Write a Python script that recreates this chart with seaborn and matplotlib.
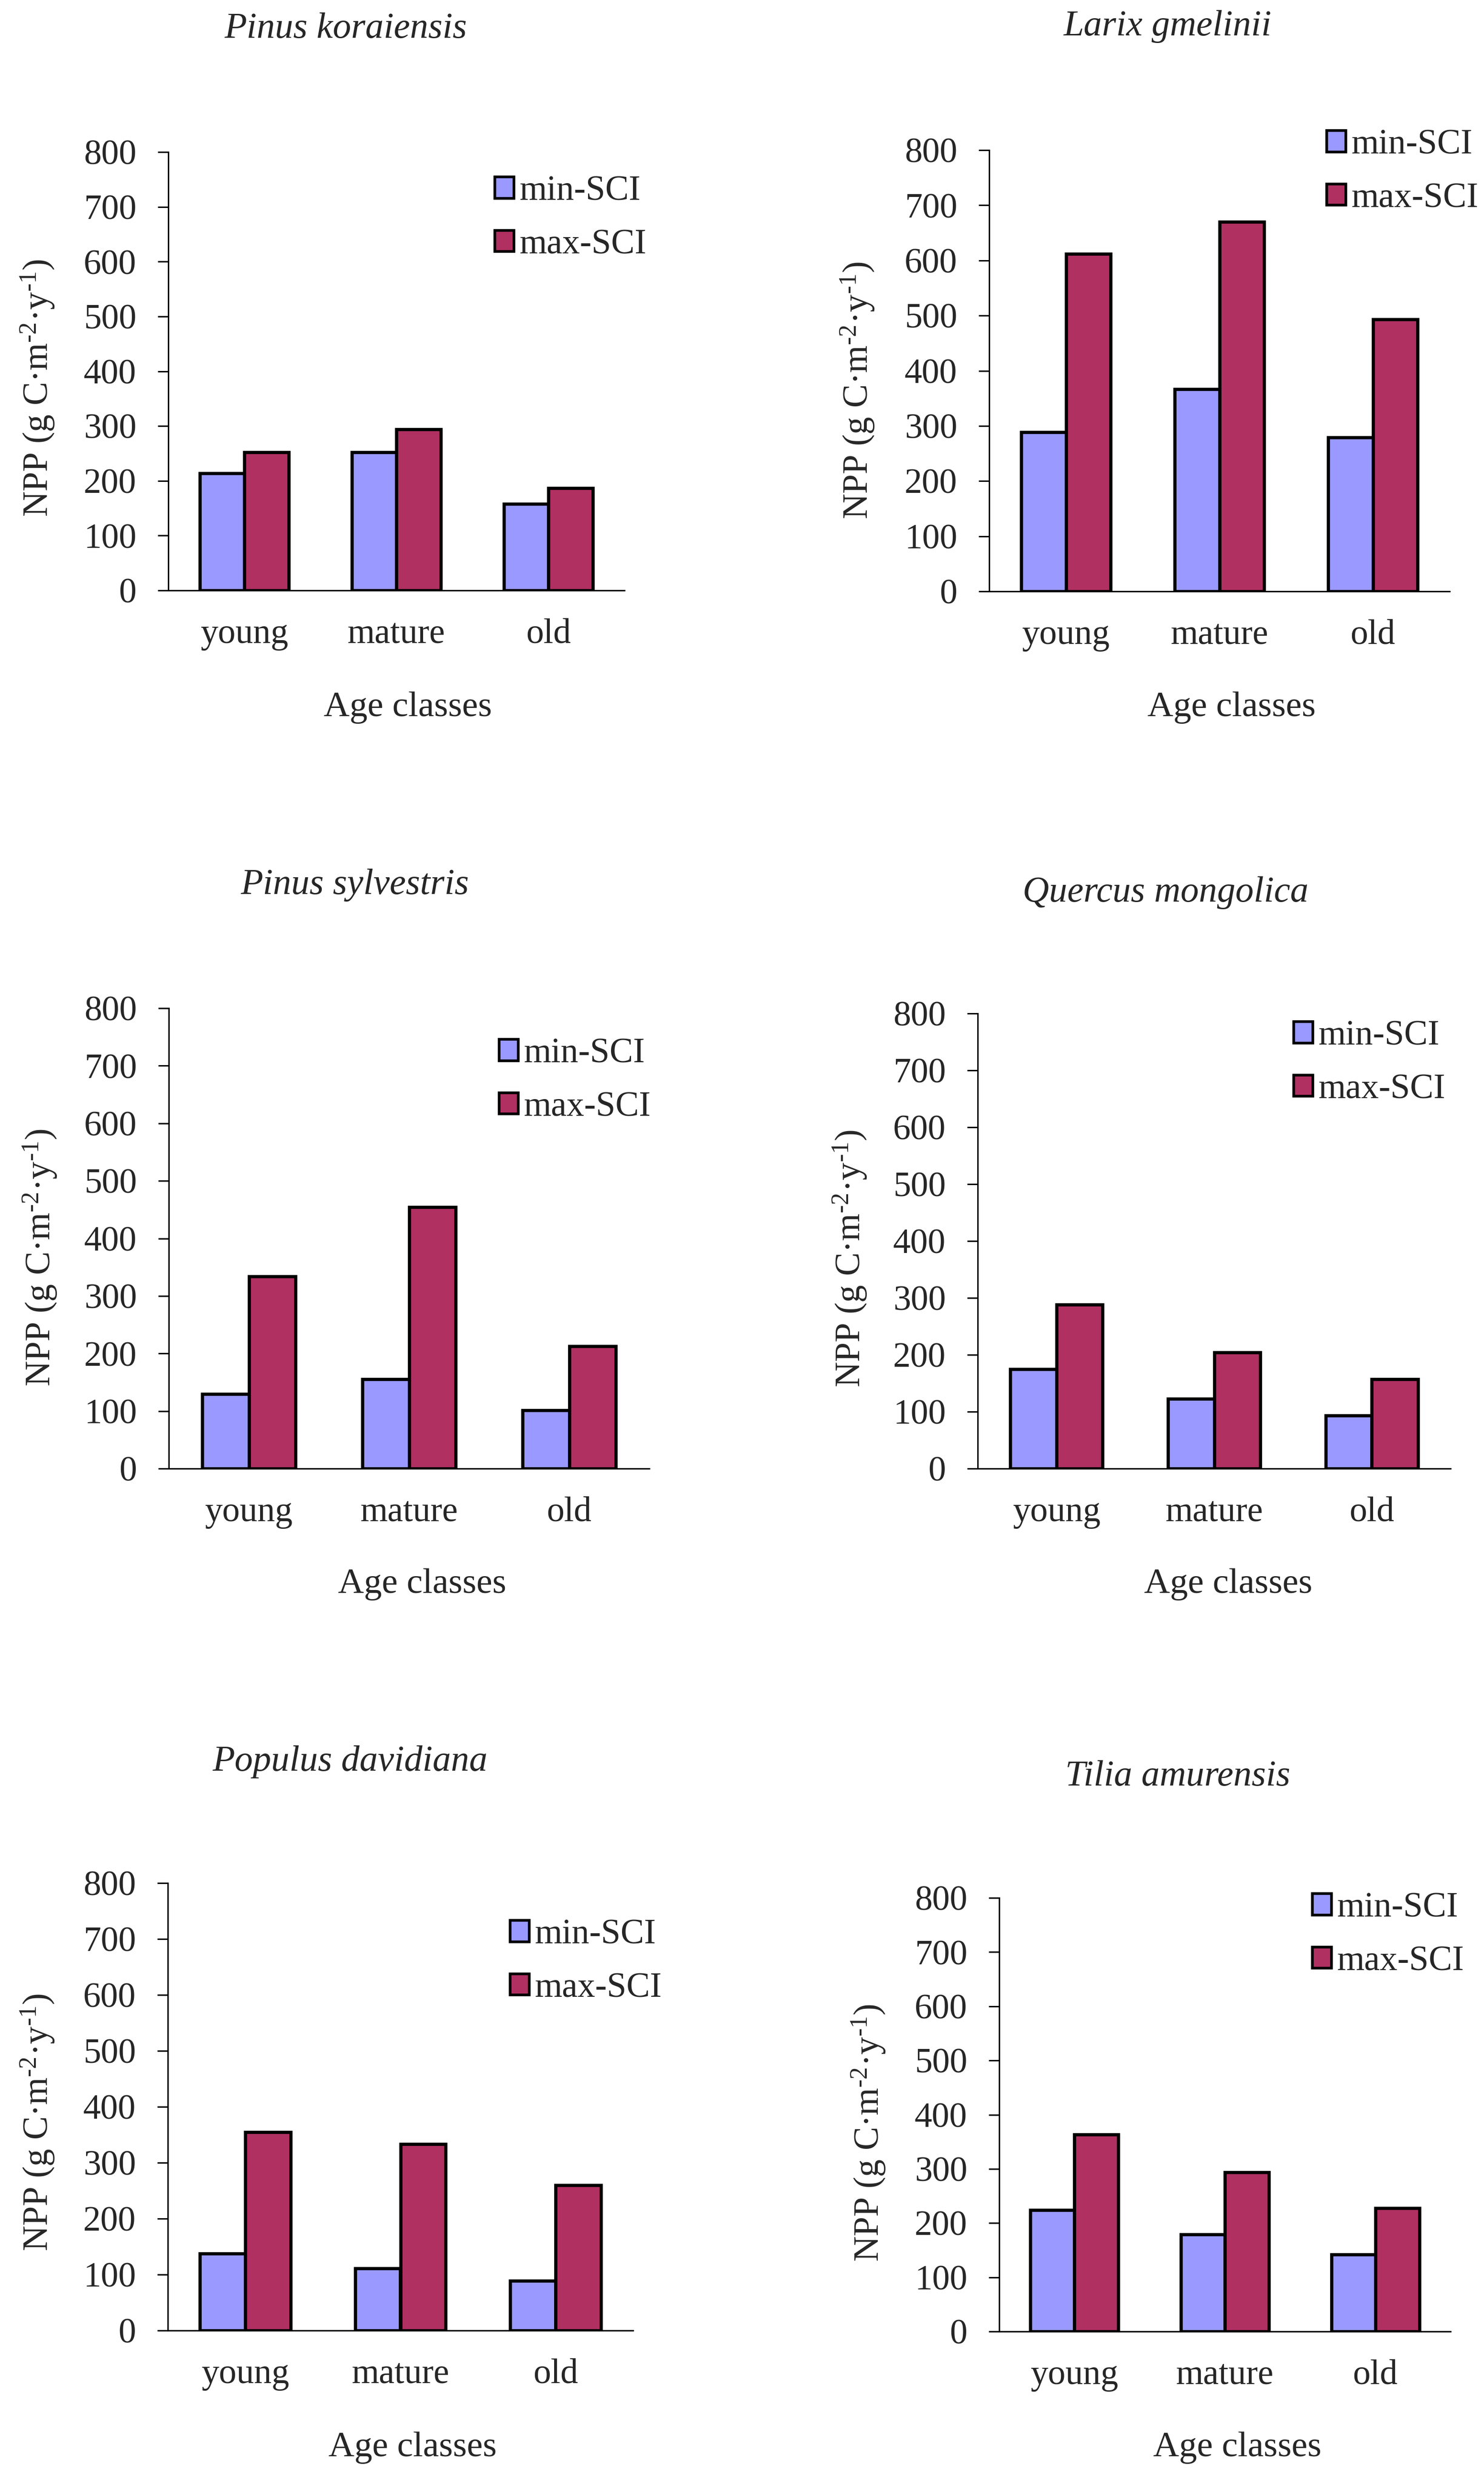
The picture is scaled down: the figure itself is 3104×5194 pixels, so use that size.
import matplotlib
matplotlib.use("Agg")
import matplotlib.pyplot as plt
import seaborn as sns
import pandas as pd
from matplotlib.ticker import FixedLocator

sns.set_theme(style="white")
plt.rcParams['font.family'] = ['Liberation Serif', 'DejaVu Serif']
plt.rcParams['mathtext.fontset'] = 'custom'
plt.rcParams['mathtext.rm'] = 'Liberation Serif'
plt.rcParams['mathtext.it'] = 'Liberation Serif:italic'
plt.rcParams['mathtext.default'] = 'rm'

# ---- data ----
age_classes = ["young", "mature", "old"]
series_names = ["min-SCI", "max-SCI"]
species = ["Pinus koraiensis", "Larix gmelinii", "Pinus sylvestris",
           "Quercus mongolica", "Populus davidiana", "Tilia amurensis"]
pk_min = [214, 252, 158]
pk_max = [252, 294, 187]
lg_min = [289, 367, 279]
lg_max = [612, 670, 493]
ps_min = [130, 155, 101]
ps_max = [334, 454, 213]
qm_min = [175, 123, 93]
qm_max = [288, 204, 157]
pd_min = [138, 111, 89]
pd_max = [355, 333, 260]
ta_min = [224, 179, 142]
ta_max = [363, 294, 228]
y_ticks = [0, 100, 200, 300, 400, 500, 600, 700, 800]

mins = [pk_min, lg_min, ps_min, qm_min, pd_min, ta_min]
maxs = [pk_max, lg_max, ps_max, qm_max, pd_max, ta_max]

colors = ["#9999FF", "#B03062"]

W, H = 3104, 5194
DPI = 200
fig = plt.figure(figsize=(W / DPI, H / DPI), dpi=DPI)
fig.patch.set_facecolor("white")

# layout in pixel coordinates (x0, x1, ytop, ybottom)
axes_px = [(352, 1306, 318, 1235), (2069, 3032, 314, 1237),
           (353, 1358, 2109, 3072), (2045, 3034, 2120, 3072),
           (351, 1324, 3939, 4875), (2090, 3034, 3970, 4877)]
title_px = [(723, 61), (2443, 56), (742, 1852), (2438, 1867), (732, 3686), (2463, 3716)]
ylab_px = [(79, 811), (1794, 816), (84, 2630), (1778, 2632), (79, 4439), (1817, 4461)]
xlab_px = [(853, 1480), (2576, 1480), (883, 3314), (2569, 3314), (863, 5120), (2588, 5120)]
leg_px = [(1035, 393), (2775, 296), (1044, 2197), (2706, 2160), (1067, 4040), (2745, 3984)]

FS = 26.5
FS_T = 27.5
ylabel = "NPP (g C·m$^{\u20102}$·y$^{\u20101}$)"

for i in range(6):
    x0, x1, yt, yb = axes_px[i]
    ax = fig.add_axes([x0 / W, 1 - yb / H, (x1 - x0) / W, (yb - yt) / H])
    df = pd.DataFrame({
        "age": age_classes * 2,
        "series": [series_names[0]] * 3 + [series_names[1]] * 3,
        "npp": mins[i] + maxs[i],
    })
    sns.barplot(data=df, x="age", y="npp", hue="series", order=age_classes,
                hue_order=series_names, palette=colors, width=0.585, gap=0,
                edgecolor="black", linewidth=2.4, errorbar=None, ax=ax,
                saturation=1)
    ax.set_xlim(-0.5, 2.5)
    ax.set_ylim(0, 800)
    ax.set_yticks(y_ticks)
    ax.set_yticklabels([str(v) for v in y_ticks], fontsize=FS)
    ax.set_xticks(range(3))
    ax.set_xticklabels(age_classes, fontsize=FS)
    ax.xaxis.set_minor_locator(FixedLocator([0.5, 1.5, 2.5]))
    ax.tick_params(axis="x", which="major", length=0, pad=21)
    ax.tick_params(axis="x", which="minor", direction="in", length=9, width=1.1, color="black")
    ax.tick_params(axis="y", which="major", direction="out", length=8, width=1.1,
                   color="black", pad=16, left=True)
    ax.set_xlabel("")
    ax.set_ylabel("")
    for s in ["top", "right"]:
        ax.spines[s].set_visible(False)
    for s in ["left", "bottom"]:
        ax.spines[s].set_color("black")
        ax.spines[s].set_linewidth(1.1)
    ax.set_facecolor("white")
    ax.grid(False)

    handles, labels = ax.get_legend_handles_labels()
    lx, ly = leg_px[i]
    ax.legend(handles, labels, loc="upper left",
              bbox_to_anchor=(lx / W, 1 - (ly - 26) / H),
              bbox_transform=fig.transFigure, frameon=False, fontsize=FS,
              handlelength=0.55, handleheight=0.55, handletextpad=0.15,
              labelspacing=0.6, borderpad=0, borderaxespad=0)
    for h in ax.get_legend().legend_handles:
        h.set_edgecolor("black")
        h.set_linewidth(2.0)

    tx, ty = title_px[i]
    fig.text(tx / W, 1 - ty / H, species[i], fontsize=FS_T, style="italic",
             ha="center", va="center")
    yx, yy = ylab_px[i]
    fig.text(yx / W, 1 - yy / H, ylabel, fontsize=FS, rotation=90,
             ha="center", va="center")
    xx, xy = xlab_px[i]
    fig.text(xx / W, 1 - xy / H, "Age classes", fontsize=FS + 0.5,
             ha="center", va="center")

fig.savefig("out.png", dpi=DPI, facecolor="white")
